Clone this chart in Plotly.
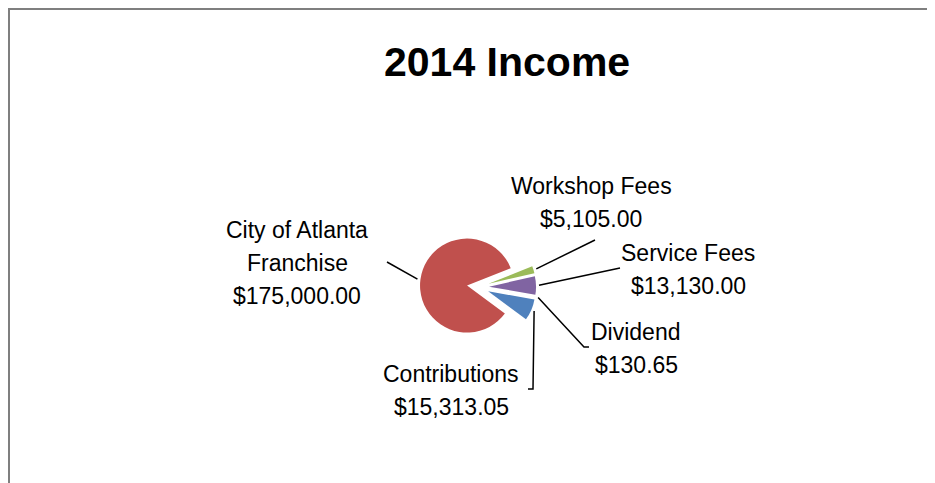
import math
import plotly.graph_objects as go

# data
categories = ["Contributions", "City of Atlanta\nFranchise", "Workshop Fees", "Service Fees", "Dividend"]
values = [15313.05, 175000.00, 5105.00, 13130.00, 130.65]
colors = ["#4F81BD", "#C0504D", "#9BBB59", "#8064A2", "#4BACC6"]

W, H = 935, 483
PAGE_OFFSET = 8  # default body margin of the html page
FONT = "Liberation Sans"
LINE_GAP = 33

# pie geometry (screen pixels)
rotation = 100
pull = 0.235
cx, cy, r = 478, 287, 47
box = 2 * r * (1 + pull)

# where each label sits (first line centre) and the label end of its leader line
label_layout = [
    dict(x=451, y=374, leader=[(533, 389), (528, 389)]),
    dict(x=297, y=230, leader=[(387, 262)]),
    dict(x=591, y=186, leader=[(595, 240)]),
    dict(x=688, y=253, leader=[(620, 268)]),
    dict(x=636, y=332, leader=[(584, 347), (589, 347)]),
]


def px(x, y):
    return (x - PAGE_OFFSET) / W, 1 - (y - PAGE_OFFSET) / H


fig = go.Figure()
dx0, dy1 = px(cx - box / 2, cy - box / 2)
dx1, dy0 = px(cx + box / 2, cy + box / 2)
fig.add_trace(
    go.Pie(
        labels=categories,
        values=values,
        sort=False,
        direction="clockwise",
        rotation=rotation,
        pull=[pull] * len(values),
        marker=dict(colors=colors, line=dict(width=0)),
        textinfo="none",
        hoverinfo="label+value",
        showlegend=False,
        domain=dict(x=[dx0, dx1], y=[dy0, dy1]),
    )
)

total = sum(values)
annotations = []
shapes = []
cum = 0
for name, v, lay in zip(categories, values, label_layout):
    mid = math.radians(rotation + 360 * (cum + v / 2) / total)
    cum += v
    dist = r * (1 + pull) + 3
    ax = cx + dist * math.sin(mid)
    ay = cy - dist * math.cos(mid)

    pts = [(ax, ay)] + lay["leader"]
    path = ""
    for i, (x, y) in enumerate(pts):
        xp, yp = px(x, y)
        path += ("M" if i == 0 else " L") + f" {xp:.5f} {yp:.5f}"
    shapes.append(dict(type="path", path=path, xref="paper", yref="paper",
                       line=dict(color="black", width=1.5)))

    lines = name.split("\n") + [f"${v:,.2f}"]
    for i, t in enumerate(lines):
        xp, yp = px(lay["x"], lay["y"] + i * LINE_GAP)
        annotations.append(dict(text=t, x=xp, y=yp, xref="paper", yref="paper",
                                xanchor="center", yanchor="middle", showarrow=False,
                                font=dict(family=FONT, size=23, color="black")))

# title
tx, ty = px(507, 62)
annotations.append(dict(text="<b>2014 Income</b>", x=tx, y=ty, xref="paper", yref="paper",
                        xanchor="center", yanchor="middle", showarrow=False,
                        font=dict(family=FONT, size=41, color="black")))

# chart frame (only top and left edges are visible); the page cannot draw above y=8
x0, y0 = px(9, 9)
shapes.append(dict(type="rect", xref="paper", yref="paper", x0=x0, y0=y0, x1=1.1, y1=-0.1,
                   line=dict(color="#7f7f7f", width=2)))

fig.update_layout(
    width=W,
    height=H,
    margin=dict(l=0, r=0, t=0, b=0),
    paper_bgcolor="white",
    plot_bgcolor="white",
    annotations=annotations,
    shapes=shapes,
)

fig.write_html("out.html")
